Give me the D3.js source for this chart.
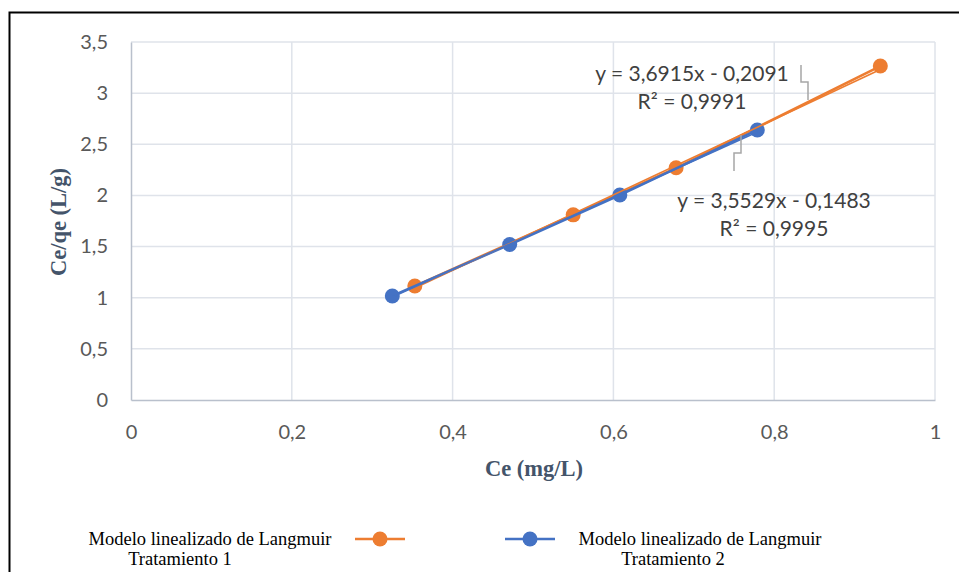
<!DOCTYPE html>
<html>
<head>
<meta charset="utf-8">
<script src="https://cdn.jsdelivr.net/npm/d3@7"></script>
<style>
  html, body { margin: 0; padding: 0; background: #fff; }
  svg { display: block; }
</style>
</head>
<body>
<svg id="chart" width="959" height="572"></svg>
<script>
// Langmuir linearised model: Ce vs Ce/qe for two treatments
const ce1 = [0.353, 0.550, 0.678, 0.932];
const ceqe1 = [1.114, 1.810, 2.270, 3.265];
const ce2 = [0.325, 0.471, 0.608, 0.779];
const ceqe2 = [1.017, 1.520, 2.004, 2.640];

// fitted trendlines (slope, intercept) and their labels
const fit1 = { m: 3.6915, b: -0.2091 };
const fit2 = { m: 3.5529, b: -0.1483 };
const fitLabels1 = ["y = 3,6915x - 0,2091", "R² = 0,9991"];
const fitLabels2 = ["y = 3,5529x - 0,1483", "R² = 0,9995"];

const xTicks = [0, 0.2, 0.4, 0.6, 0.8, 1];
const yTicks = [0, 0.5, 1, 1.5, 2, 2.5, 3, 3.5];
const seriesNames = ["Modelo linealizado de Langmuir", "Tratamiento 1", "Tratamiento 2"];
const xTitle = "Ce (mg/L)";
const yTitle = "Ce/qe (L/g)";

const orange = "#ED7D31", blue = "#4472C4";
const sans = "Lato, 'Noto Sans', sans-serif";
const serif = "'Liberation Serif', 'Times New Roman', serif";
const svg = d3.select("#chart");

// outer frame
svg.append("rect").attr("x", 9.5).attr("y", 12.5).attr("width", 980).attr("height", 600)
  .attr("fill", "none").attr("stroke", "#000").attr("stroke-width", 2);

const x = d3.scaleLinear().domain([0, 1]).range([131, 935]);
const y = d3.scaleLinear().domain([0, 3.5]).range([400, 42]);
const fmt = d => String(d).replace(".", ",");

// gridlines
const grid = svg.append("g");
grid.selectAll(".gx").data(xTicks.slice(1)).join("line")
  .attr("x1", d => x(d)).attr("x2", d => x(d)).attr("y1", y(0)).attr("y2", y(3.5))
  .attr("stroke", "#dfe3ea").attr("stroke-width", 1.5);
grid.selectAll(".gy").data(yTicks.slice(1)).join("line")
  .attr("x1", x(0)).attr("x2", x(1)).attr("y1", d => y(d)).attr("y2", d => y(d))
  .attr("stroke", "#dfe3ea").attr("stroke-width", 1.5);

// axes
const xAxis = svg.append("g").attr("transform", `translate(0,${y(0)})`)
  .call(d3.axisBottom(x).tickValues(xTicks).tickFormat(fmt).tickSize(0).tickPadding(25));
const yAxis = svg.append("g").attr("transform", `translate(${x(0)},0)`)
  .call(d3.axisLeft(y).tickValues(yTicks).tickFormat(fmt).tickSize(0).tickPadding(23));
[xAxis, yAxis].forEach(a => {
  a.select(".domain").attr("stroke", "#b9c0cc").attr("stroke-width", 1.5);
  a.selectAll("text").attr("font-family", sans).attr("font-size", 20).attr("fill", "#595959");
});

// axis titles
svg.append("text").attr("x", 534).attr("y", 476).attr("text-anchor", "middle")
  .attr("font-family", serif).attr("font-weight", "bold")
  .attr("font-size", 22.5).attr("fill", "#44546A").text(xTitle);
svg.append("text").attr("transform", "translate(58,222) rotate(-90)").attr("text-anchor", "middle")
  .attr("dominant-baseline", "central")
  .attr("font-family", serif).attr("font-weight", "bold")
  .attr("font-size", 22.5).attr("fill", "#44546A").text(yTitle);

// series lines and markers
const series = [
  { xs: ce1, ys: ceqe1, color: orange, fit: fit1 },
  { xs: ce2, ys: ceqe2, color: blue, fit: fit2 }
];
const line = d3.line().x(d => x(d[0])).y(d => y(d[1]));
series.forEach(s => {
  const pts = s.xs.map((v, i) => [v, s.ys[i]]);
  svg.append("path").datum(pts).attr("d", line).attr("fill", "none")
    .attr("stroke", s.color).attr("stroke-width", 2.5);
  svg.append("g").selectAll("circle").data(pts).join("circle")
    .attr("cx", d => x(d[0])).attr("cy", d => y(d[1])).attr("r", 7.5).attr("fill", s.color);
});

// linear trendlines over each data range
series.forEach(s => {
  const x0 = d3.min(s.xs), x1 = d3.max(s.xs);
  const pts = [[x0, s.fit.m * x0 + s.fit.b], [x1, s.fit.m * x1 + s.fit.b]];
  svg.append("path").datum(pts).attr("d", line).attr("fill", "none")
    .attr("stroke", s.color).attr("stroke-width", 1.6);
});

// trendline labels with leader lines
const leader = (pts) => svg.append("path").attr("d", d3.line()(pts)).attr("fill", "none")
  .attr("stroke", "#a6a6a6").attr("stroke-width", 1.5);
leader([[801, 65], [801, 82], [808, 82], [808, 100]]);
leader([[734, 171], [734, 153], [741, 153], [741, 135]]);

const labelText = (lines, cx, cy) => {
  lines.forEach((t, i) => {
    svg.append("text").attr("x", cx).attr("y", cy + i * 28).attr("text-anchor", "middle")
      .attr("dominant-baseline", "central")
      .attr("font-family", sans).attr("font-size", 21)
      .attr("fill", "#404040").text(t);
  });
};
labelText(fitLabels1, 692, 72);
labelText(fitLabels2, 774, 199);

// legend
const lg = svg.append("g").attr("font-family", serif).attr("font-size", 18.5).attr("fill", "#000");
lg.append("text").attr("x", 210).attr("y", 545).attr("text-anchor", "middle").text(seriesNames[0]);
lg.append("text").attr("x", 180).attr("y", 565).attr("text-anchor", "middle").text(seriesNames[1]);
lg.append("text").attr("x", 700).attr("y", 545).attr("text-anchor", "middle").text(seriesNames[0]);
lg.append("text").attr("x", 673).attr("y", 565).attr("text-anchor", "middle").text(seriesNames[2]);
[[380, orange], [530, blue]].forEach(([cx, c]) => {
  svg.append("line").attr("x1", cx - 25).attr("x2", cx + 25).attr("y1", 539).attr("y2", 539)
    .attr("stroke", c).attr("stroke-width", 2.5);
  svg.append("circle").attr("cx", cx).attr("cy", 539).attr("r", 7.5).attr("fill", c);
});
</script>
</body>
</html>
